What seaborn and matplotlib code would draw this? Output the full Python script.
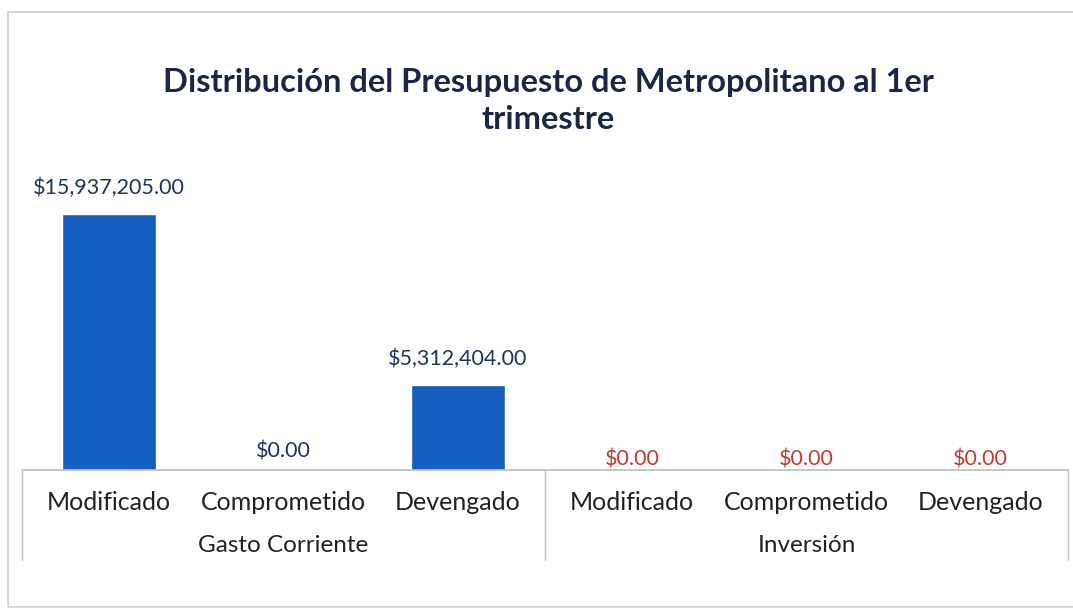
import matplotlib.pyplot as plt
import pandas as pd
import seaborn as sns
from matplotlib.patches import Rectangle

# datos
grupos = ["Gasto Corriente", "Gasto Corriente", "Gasto Corriente",
          "Inversión", "Inversión", "Inversión"]
conceptos = ["Modificado", "Comprometido", "Devengado",
             "Modificado", "Comprometido", "Devengado"]
montos = [15937205.00, 0.00, 5312404.00, 0.00, 0.00, 0.00]

titulo = "Distribución del Presupuesto de Metropolitano al 1er\ntrimestre"

df = pd.DataFrame({"grupo": grupos, "concepto": conceptos, "monto": montos})
df["clave"] = [f"{g}|{c}" for g, c in zip(grupos, conceptos)]

sns.set_theme(style="white")
plt.rcParams["font.family"] = ["Lato", "DejaVu Sans"]

fig = plt.figure(figsize=(10.73, 6.15), dpi=100)
ax = fig.add_axes([22 / 1073, 145 / 615, 1046 / 1073, 300 / 615])

sns.barplot(data=df, x="clave", y="monto", color="#165fc0", width=0.54,
            saturation=1, ax=ax)

ax.set_ylim(0, 15937205.00 * 300 / 256)
ax.set_xlim(-0.5, len(df) - 0.5)
ax.set_xlabel("")
ax.set_ylabel("")
ax.set_yticks([])
ax.set_xticks([])
for s in ax.spines.values():
    s.set_visible(False)

color_val = {"Gasto Corriente": "#1f3560", "Inversión": "#c23a33"}
offset = {"Gasto Corriente": 18, "Inversión": 11}
for i, row in df.iterrows():
    off = 26 if row["monto"] > 0 else offset[row["grupo"]]
    ax.annotate(f"${row['monto']:,.2f}", (i, row["monto"]),
                xytext=(0, off * 0.72), textcoords="offset points",
                ha="center", va="center", fontsize=15.5,
                color=color_val[row["grupo"]])

# eje de categorias en dos niveles
tr = ax.get_xaxis_transform()
linea = "#bdbdbd"
ax.plot([-0.5, len(df) - 0.5], [0, 0], transform=tr, color=linea,
        lw=1.2, clip_on=False)
for xs in [-0.5, 2.5, len(df) - 0.5]:
    ax.plot([xs, xs], [0, -0.3], transform=tr, color=linea, lw=1,
            clip_on=False)
for i, c in enumerate(conceptos):
    ax.text(i, -32 / 300, c, transform=tr, ha="center", va="center",
            fontsize=18, color="#222222")
for centro, g in [(1, "Gasto Corriente"), (4, "Inversión")]:
    ax.text(centro, -76 / 300, g, transform=tr, ha="center", va="center",
            fontsize=17.5, color="#222222")

fig.text(548 / 1073, 1 - 101 / 615, titulo, ha="center", va="center",
         fontsize=23.5, fontweight="bold", color="#1b2745",
         linespacing=1.3)

# marco exterior del grafico
fig.patches.append(Rectangle((8 / 1073, 8 / 615), 1.2, 1 - 20 / 615,
                             transform=fig.transFigure, fill=False,
                             edgecolor="#d0d0d0", lw=1.2))

fig.savefig("out.png", dpi=100)
